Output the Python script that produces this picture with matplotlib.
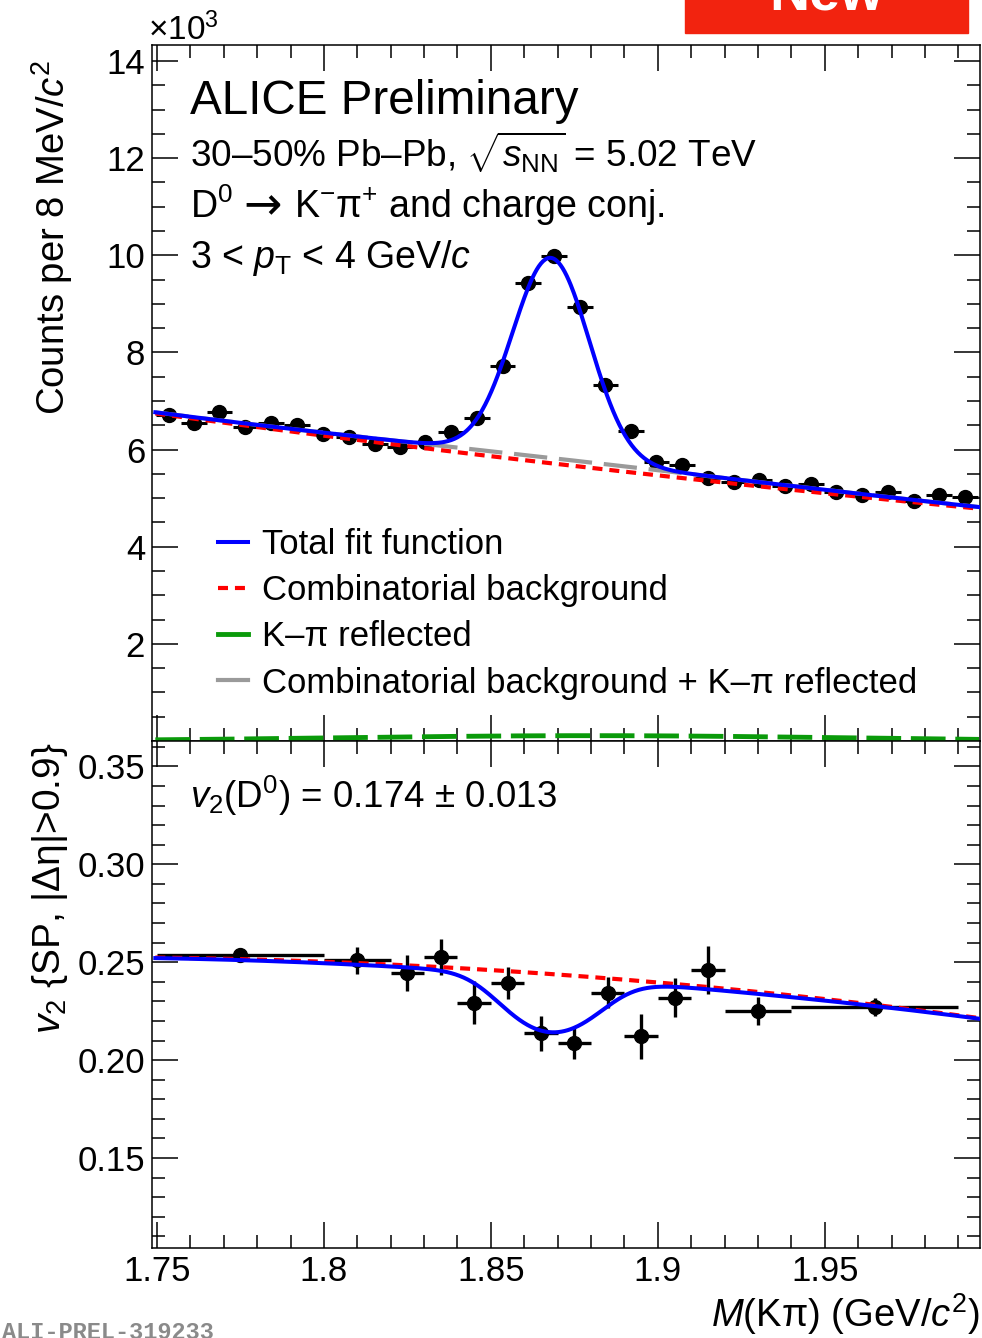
import numpy as np
import matplotlib
matplotlib.use("Agg")
import matplotlib.pyplot as plt
from matplotlib.lines import Line2D
from matplotlib.patches import Rectangle
from matplotlib.ticker import MultipleLocator, FixedLocator

plt.rcParams['font.family'] = ['Liberation Sans', 'DejaVu Sans']
plt.rcParams['mathtext.fontset'] = 'custom'
plt.rcParams['mathtext.rm'] = 'Liberation Sans'
plt.rcParams['mathtext.it'] = 'Liberation Sans:italic'
plt.rcParams['mathtext.bf'] = 'Liberation Sans:bold'
plt.rcParams['lines.scale_dashes'] = False

# invariant-mass distribution (counts x 10^3)
mass = [1.7535, 1.7610, 1.7687, 1.7765, 1.7842, 1.7920, 1.7996, 1.8074,
        1.8152, 1.8227, 1.8304, 1.8381, 1.8458, 1.8535, 1.8612, 1.8689,
        1.8766, 1.8843, 1.8920, 1.8996, 1.9073, 1.9150, 1.9227, 1.9304,
        1.9381, 1.9458, 1.9535, 1.9612, 1.9689, 1.9766, 1.9843, 1.9920]
counts = [6.71, 6.54, 6.78, 6.47, 6.54, 6.50, 6.32, 6.26, 6.11, 6.06, 6.16, 6.36,
          6.66, 7.72, 9.42, 9.98, 8.94, 7.33, 6.39, 5.75, 5.68, 5.41, 5.34, 5.38,
          5.25, 5.30, 5.13, 5.06, 5.13, 4.94, 5.06, 5.03]
counts_err = [0.08, 0.08, 0.08, 0.08, 0.08, 0.08, 0.08, 0.08, 0.08, 0.08, 0.08, 0.08,
              0.08, 0.09, 0.10, 0.10, 0.09, 0.09, 0.08, 0.08, 0.08, 0.07, 0.07, 0.07,
              0.07, 0.07, 0.07, 0.07, 0.07, 0.07, 0.07, 0.07]
mass_halfbin = 0.00385

# v2 vs mass
v2_mass = [1.775, 1.81, 1.825, 1.835, 1.845, 1.855, 1.865, 1.875, 1.885, 1.895,
           1.905, 1.915, 1.93, 1.965]
v2_mass_err = [0.025, 0.01, 0.005, 0.005, 0.005, 0.005, 0.005, 0.005, 0.005, 0.005,
               0.005, 0.005, 0.01, 0.025]
v2 = [0.2536, 0.2510, 0.2445, 0.2527, 0.2292, 0.2394, 0.2137, 0.2087, 0.2345, 0.2122,
      0.2318, 0.2459, 0.2250, 0.2272]
v2_err = [0.003, 0.007, 0.009, 0.0093, 0.011, 0.008, 0.009, 0.008, 0.0077, 0.0115,
          0.010, 0.0123, 0.007, 0.0045]

# fit parameters
bkg_par = [6.739, 1.392]          # amplitude at 1.75, slope of exponential
sig_par = [4.12, 1.868, 0.0115]   # gaussian amplitude, mean, sigma
refl_par = [0.11, 1.88, 0.075]    # reflection amplitude, mean, sigma
v2bkg_par = [0.2437, -0.1229, -0.422]  # quadratic around 1.87
v2_sig = 0.174

W, H = 982, 1338
fig = plt.figure(figsize=(W / 100, H / 100), dpi=100)


def fx(x):
    return x / W


def fy(y):
    return 1 - y / H


ax1 = fig.add_axes([fx(152), fy(741), fx(980) - fx(152), fy(45) - fy(741)])
ax2 = fig.add_axes([fx(152), fy(1248), fx(980) - fx(152), fy(741) - fy(1248)])

m = np.linspace(1.7495, 1.9962, 800)
bkg = bkg_par[0] * np.exp(-bkg_par[1] * (m - 1.75))
sig = sig_par[0] * np.exp(-0.5 * ((m - sig_par[1]) / sig_par[2]) ** 2)
refl = refl_par[0] * np.exp(-0.5 * ((m - refl_par[1]) / refl_par[2]) ** 2)
total = bkg + sig + refl
u = m - 1.87
v2bkg = v2bkg_par[0] + v2bkg_par[1] * u + v2bkg_par[2] * u ** 2
v2tot = (v2_sig * (sig + refl) + v2bkg * bkg) / total

blue, red, green, gray = '#0000ff', '#ff0000', '#0a9a0a', '#9a9a9a'

# top panel
ax1.errorbar(mass, counts, xerr=mass_halfbin, yerr=counts_err, fmt='o', color='black',
             ms=10, elinewidth=2.2, capsize=0, zorder=3)
ax1.plot(m, bkg + refl, color=gray, lw=3, dashes=(24, 8.5), zorder=4)
ax1.plot(m, bkg, color=red, lw=3, dashes=(7.2, 5.0), zorder=5)
ax1.plot(m, refl, color=green, lw=3.5, dashes=(25, 7), zorder=5, clip_on=False)
ax1.plot(m, total, color=blue, lw=2.9, zorder=6)

ax1.set_xlim(1.7485, 1.9965)
ax1.set_ylim(0, 14.33)

# bottom panel
ax2.errorbar(v2_mass, v2, xerr=v2_mass_err, yerr=v2_err, fmt='o', color='black',
             ms=10, elinewidth=2.4, capsize=0, zorder=3)
ax2.plot(m, v2bkg, color=red, lw=3, dashes=(7.2, 5.0), zorder=5)
ax2.plot(m, v2tot, color=blue, lw=2.9, zorder=6)
ax2.set_xlim(1.7485, 1.9965)
ax2.set_ylim(0.104, 0.363)

for ax in (ax1, ax2):
    for s in ax.spines.values():
        s.set_linewidth(1.1)
    ax.tick_params(which='both', direction='in', top=True, right=True, width=1.1,
                   labelsize=25, pad=5)
    ax.tick_params(which='major', length=19)
    ax.tick_params(which='minor', length=9.5)
    ax.xaxis.set_major_locator(FixedLocator([1.75, 1.8, 1.85, 1.9, 1.95]))
    ax.xaxis.set_minor_locator(MultipleLocator(0.01))

ax1.yaxis.set_major_locator(FixedLocator([2, 4, 6, 8, 10, 12, 14]))
ax1.yaxis.set_minor_locator(MultipleLocator(0.5))
ax1.set_yticklabels(['2', '4', '6', '8', '10', '12', '14'])
ax1.tick_params(labelbottom=False)

ax2.yaxis.set_major_locator(FixedLocator([0.15, 0.2, 0.25, 0.3, 0.35]))
ax2.yaxis.set_minor_locator(MultipleLocator(0.01))
ax2.set_yticklabels(['0.15', '0.20', '0.25', '0.30', '0.35'])
ax2.set_xticklabels(['1.75', '1.8', '1.85', '1.9', '1.95'])

# legend
handles = [Line2D([], [], color=blue, lw=2.9),
           Line2D([], [], color=red, lw=3, dashes=(7.2, 5.0)),
           Line2D([], [], color=green, lw=3.5),
           Line2D([], [], color=gray, lw=3)]
labels = ['Total fit function', 'Combinatorial background', 'K–π reflected',
          'Combinatorial background + K–π reflected']
ax1.legend(handles, labels, loc='upper left', bbox_to_anchor=(0.0797, 0.306),
           frameon=False, fontsize=25, handlelength=0.85, handletextpad=0.42,
           labelspacing=0.38, borderpad=0, borderaxespad=0)

# texts
fig.text(fx(190), fy(114), 'ALICE Preliminary', fontsize=34.3, va='baseline')
fig.text(fx(190), fy(167), r'30–50% Pb–Pb, $\sqrt{s_{\mathrm{NN}}}$ = 5.02 TeV',
         fontsize=26.6, va='baseline')
fig.text(fx(190), fy(218), r'D$^{0}$', fontsize=27, va='baseline')
fig.text(fx(243), fy(219), '→', fontsize=33, family='DejaVu Sans', va='baseline')
fig.text(fx(294), fy(218), r'K$^{-}$π$^{+}$ and charge conj.', fontsize=27,
         va='baseline')
fig.text(fx(190), fy(268), r'3 < $p_{\mathrm{T}}$ < 4 GeV/$c$', fontsize=27, va='baseline')
fig.text(fx(190), fy(808), r'$v_{2}$(D$^{0}$) = 0.174 ± 0.013', fontsize=26.5,
         va='baseline')

fig.text(fx(148), fy(40), r'×10$^{3}$', fontsize=24, va='baseline')
fig.text(fx(52), fy(237), r'Counts per 8 MeV/$c^{2}$', fontsize=27.5, rotation=90,
         ha='center', va='center')
fig.text(fx(50), fy(888), r'$v_{2}$ {SP, |Δη|>0.9}', fontsize=28, rotation=90,
         ha='center', va='center')
fig.text(fx(980), fy(1327), r'$M$(Kπ) (GeV/$c^{2}$)', fontsize=27.5, ha='right',
         va='baseline')

# "New" badge and figure id
fig.patches.append(Rectangle((fx(685), fy(33)), fx(968) - fx(685), 40 / H,
                             transform=fig.transFigure, color='#f2230f', zorder=0))
fig.text(fx(826), fy(10), 'New', fontsize=40, weight='bold', color='white',
         ha='center', va='baseline')
fig.text(fx(2), fy(1339), 'ALI-PREL-319233', fontsize=17, family='Liberation Mono',
         weight='bold', color='#8a8a8a', va='baseline')

fig.savefig('out.png', dpi=100)
